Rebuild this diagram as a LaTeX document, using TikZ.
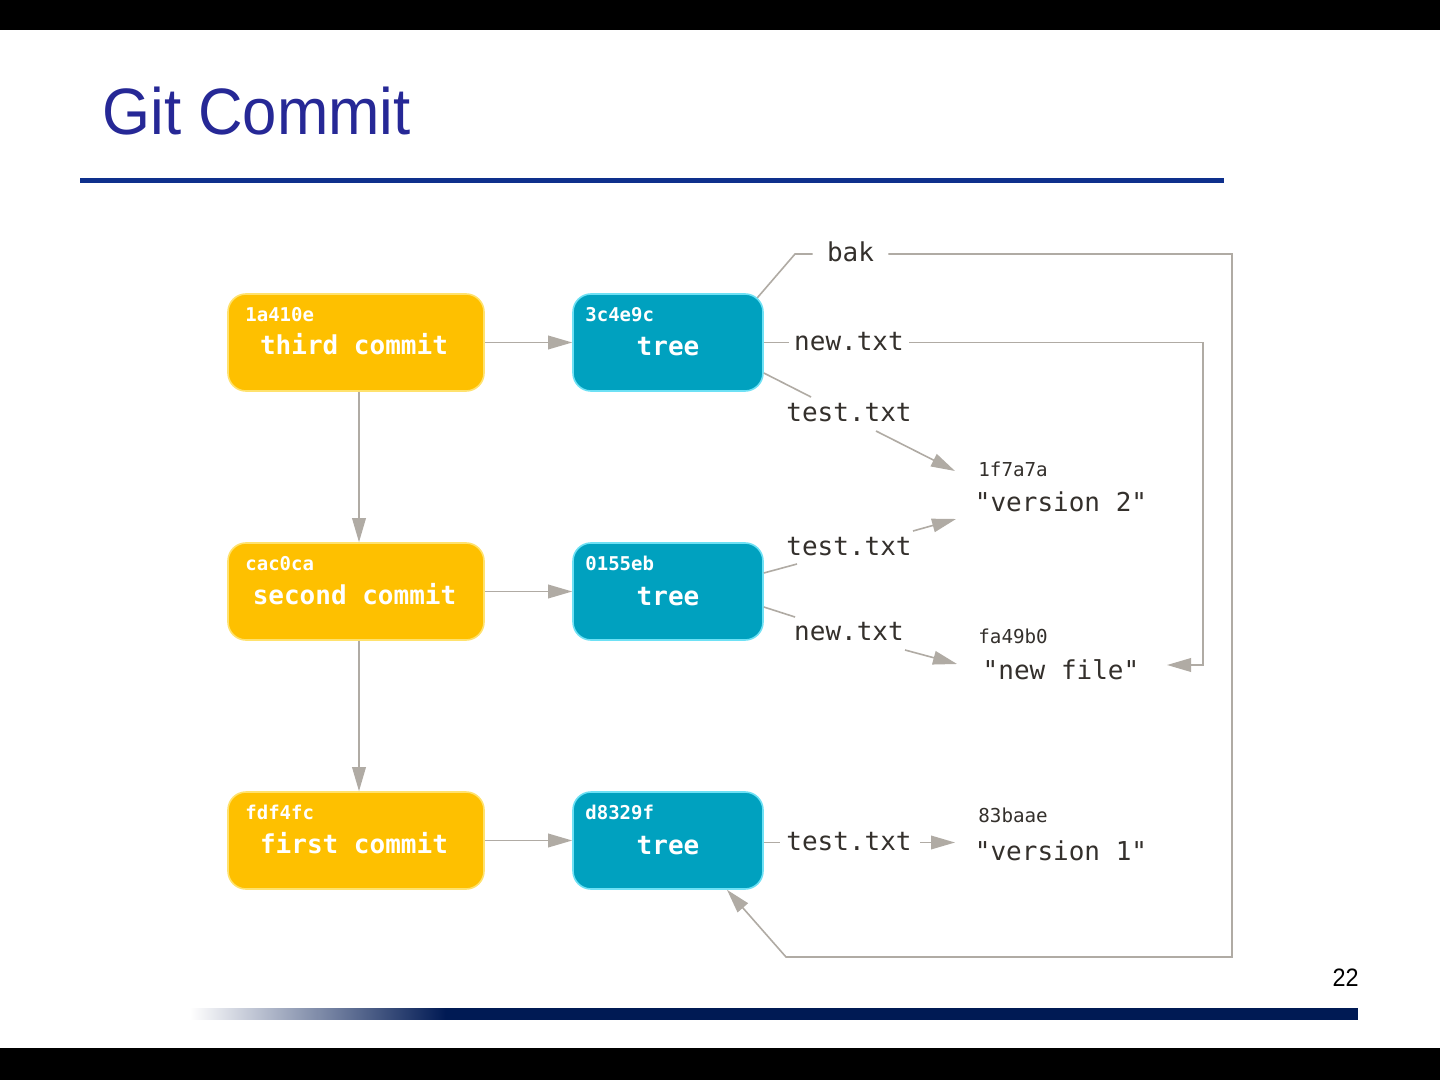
\documentclass[tikz,border=0pt]{standalone}
\usepackage{fontspec}
\setmainfont{Liberation Sans}
\newfontfamily\codefont{DejaVu Sans Mono}
\usetikzlibrary{arrows.meta,calc,backgrounds,fadings}

\definecolor{commitfill}{RGB}{254,192,0}
\definecolor{commitedge}{RGB}{255,226,110}
\definecolor{treefill}{RGB}{0,161,191}
\definecolor{treeedge}{RGB}{110,225,245}
\definecolor{linkgray}{RGB}{176,171,164}
\definecolor{inkgray}{RGB}{52,48,44}
\definecolor{titleblue}{RGB}{38,40,150}
\definecolor{ruleblue}{RGB}{14,48,140}
\definecolor{barnavy}{RGB}{0,26,84}

% opaque on the left, clear on the right
\tikzfading[name=fadetoright, left color=transparent!0, right color=transparent!100]

\begin{document}
\begin{tikzpicture}[x=0.5pt,y=-0.5pt,
  box/.style={rectangle, rounded corners=9pt, line width=0.8pt, inner sep=0pt, minimum height=48.5pt},
  commitbox/.style={box, fill=commitfill, draw=commitedge, minimum width=128pt},
  treebox/.style={box, fill=treefill, draw=treeedge, minimum width=95pt},
  boxhash/.style={anchor=base west, inner sep=0pt, text=white, font=\codefont\bfseries\fontsize{9.5}{11}\selectfont},
  boxname/.style={anchor=base, inner sep=0pt, text=white, font=\codefont\bfseries\fontsize{13}{15}\selectfont},
  fname/.style={anchor=base, inner ysep=0pt, inner xsep=2.5pt, text=inkgray, font=\codefont\fontsize{13}{15}\selectfont},
  blobhash/.style={anchor=base west, inner sep=0pt, text=inkgray, font=\codefont\fontsize{9.6}{11}\selectfont},
  blobtext/.style={anchor=base, inner sep=0pt, text=inkgray, font=\codefont\fontsize{13}{15}\selectfont},
  link/.style={draw=linkgray, line width=0.8pt},
  ptr/.style={link, -{Triangle[length=12pt,width=6.8pt,fill=linkgray]}},
]
\useasboundingbox (0,0) rectangle (1440,1080);

% slide background and frame bars
\begin{scope}[on background layer]
\fill[white] (0,0) rectangle (1440,1080);
\end{scope}
\fill[black] (0,0) rectangle (1440,30);
\fill[black] (0,1048) rectangle (1440,1080);

% title and rule
\node[anchor=base west, inner sep=0pt, text=titleblue, font=\fontsize{32.8}{36}\selectfont] (title) at (102,135) {\scalebox{0.94}[1]{Git Commit}};
\draw[ruleblue, line width=2.5pt] (80,181) -- (1224,181);

% footer bar and page number
\fill[barnavy] (191,1008) rectangle (1358,1020);
\fill[white, path fading=fadetoright] (190,1007) rectangle (446,1021);
\node[anchor=base east, inner sep=0pt, font=\fontsize{12.6}{14}\selectfont] (page) at (1359,986.5) {\scalebox{0.93}[1]{22}};

% commits
\node[commitbox] (c3) at (356,342.5) {};
\node[boxhash] (c3h) at (245,321.5) {1a410e};
\node[boxname] (c3n) at (354,355) {third commit};
\node[commitbox] (c2) at (356,591.5) {};
\node[boxhash] (c2h) at (245,570.5) {cac0ca};
\node[boxname] (c2n) at (354.5,604) {second commit};
\node[commitbox] (c1) at (356,840.5) {};
\node[boxhash] (c1h) at (245,819.5) {fdf4fc};
\node[boxname] (c1n) at (354,853) {first commit};

% trees
\node[treebox] (t3) at (668,342.5) {};
\node[boxhash] (t3h) at (585,321.5) {3c4e9c};
\node[boxname] (t3n) at (668,356) {tree};
\node[treebox] (t2) at (668,591.5) {};
\node[boxhash] (t2h) at (585,570.5) {0155eb};
\node[boxname] (t2n) at (668,605) {tree};
\node[treebox] (t1) at (668,840.5) {};
\node[boxhash] (t1h) at (585,819.5) {d8329f};
\node[boxname] (t1n) at (668,854) {tree};

% blobs
\node[blobhash] (b2h) at (978,476) {1f7a7a};
\node[blobtext] (b2) at (1061,511.5) {"version 2"};
\node[blobhash] (bnh) at (978,643) {fa49b0};
\node[blobtext] (bn) at (1061,679) {"new file"};
\node[blobhash] (b1h) at (978,822.5) {83baae};
\node[blobtext] (b1) at (1061,860) {"version 1"};

% entry names
\node[fname, inner xsep=7pt] (bak) at (850.5,261.5) {bak};
\node[fname] (n3) at (849,351) {new.txt};
\node[fname] (tt3) at (849,422) {test.txt};
\node[fname] (tt2) at (849,555) {test.txt};
\node[fname] (n2) at (849,640) {new.txt};
\node[fname] (tt1) at (849,850) {test.txt};

% bends and arrow ends
\coordinate (bakknee) at (795,254);
\coordinate (bakNE) at (1232,254);
\coordinate (bakSE) at (1232,957);
\coordinate (bakSW) at (786,957);
\coordinate (newNE) at (1203,342.5);
\coordinate (newSE) at (1203,665);
\coordinate (nfgoal) at (1167,665);
\coordinate (tt3in) at (811,397);
\coordinate (tt3out) at (876,431);
\coordinate (v2goalA) at (955,471);
\coordinate (tt2in) at (797,564);
\coordinate (tt2out) at (913,531);
\coordinate (v2goalB) at (956,519);
\coordinate (n2in) at (795,617);
\coordinate (n2out) at (905,650);
\coordinate (nfgoalB) at (957,664);
\coordinate (tt1in) at (780,842.5);
\coordinate (tt1out) at (920,842.5);
\coordinate (v1goal) at (955,842.5);

% commit -> tree, commit -> parent
\draw[ptr] (c3) -- (t3);
\draw[ptr] (c2) -- (t2);
\draw[ptr] (c1) -- (t1);
\draw[ptr] ([xshift=1.5pt]c3.south) -- ([xshift=1.5pt]c2.north);
\draw[ptr] ([xshift=1.5pt]c2.south) -- ([xshift=1.5pt]c1.north);

% top tree entries (the bak stub starts under the box)
\begin{scope}[on background layer]
\draw[link] ($(t3.north east)+(-12,11)$) -- (bakknee) -- (bakknee -| bak.west);
\end{scope}
\draw[ptr] (bakNE -| bak.east) -- (bakNE) -- (bakSE) -- (bakSW) -- ($(t1.south)+(59,0)$);
\draw[link] (t3.east) -- (t3.east -| n3.west);
\draw[ptr] (t3.east -| n3.east) -- (newNE) -- (newSE) -- (nfgoal);
\draw[link] ($(t3.east)+(0,30.5)$) -- (tt3in);
\draw[ptr] (tt3out) -- (v2goalA);

% middle tree entries
\draw[link] ($(t2.east)+(0,-18.5)$) -- (tt2in);
\draw[ptr] (tt2out) -- (v2goalB);
\draw[link] ($(t2.east)+(0,15.5)$) -- (n2in);
\draw[ptr] (n2out) -- (nfgoalB);

% bottom tree entry
\draw[link] ($(t1.east)+(0,2)$) -- (tt1in);
\draw[ptr] (tt1out) -- (v1goal);
\end{tikzpicture}
\end{document}
